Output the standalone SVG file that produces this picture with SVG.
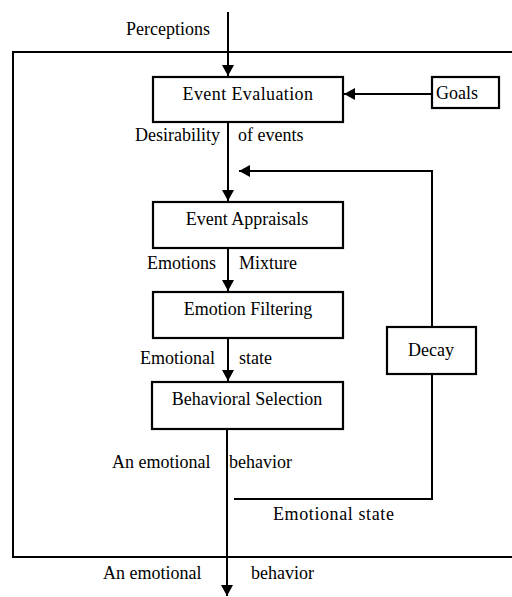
<svg xmlns="http://www.w3.org/2000/svg" width="512" height="597" viewBox="0 0 512 597">
<defs>
<marker id="ah" markerWidth="12" markerHeight="12" refX="11" refY="6" orient="auto" markerUnits="userSpaceOnUse">
<path d="M0,0 L11,6 L0,12 Z" fill="#000"/>
</marker>
<style>
.box{fill:#fff;stroke:#000;stroke-width:2.2}
.ln{fill:none;stroke:#000;stroke-width:2}
.c{text-anchor:middle}
</style>
</defs>
<rect x="0" y="0" width="512" height="597" fill="#fff"/>
<g id="frame">
<path class="ln" d="M512,52 H13 V557 H512"/>
</g>
<g id="connectors">
<path class="ln" d="M228,12 V76" marker-end="url(#ah)"/>
<path class="ln" d="M432,94 H344" marker-end="url(#ah)"/>
<path class="ln" d="M228,122 V201" marker-end="url(#ah)"/>
<path class="ln" d="M432,327 V171 H239" marker-end="url(#ah)"/>
<path class="ln" d="M228,248 V291" marker-end="url(#ah)"/>
<path class="ln" d="M228,338 V381" marker-end="url(#ah)"/>
<path class="ln" d="M432,374 V499 H234"/>
<path class="ln" d="M227,429 V596" marker-end="url(#ah)"/>
</g>
<g font-family="Liberation Serif, Times New Roman, DejaVu Serif, serif" font-size="18" fill="#000">
<g id="labels">
<text x="126" y="35">Perceptions</text>
<text x="135" y="141">Desirability</text>
<text x="238" y="141">of events</text>
<text x="147" y="269">Emotions</text>
<text x="239" y="269">Mixture</text>
<text x="140" y="364">Emotional</text>
<text x="239" y="364">state</text>
<text x="112" y="468">An emotional</text>
<text x="229" y="468">behavior</text>
<text x="273" y="520" letter-spacing="0.6">Emotional state</text>
<text x="103" y="579">An  emotional</text>
<text x="251" y="579">behavior</text>
</g>
<g id="event-evaluation">
<rect class="box" x="153" y="77" width="190" height="45"/>
<text class="c" x="248" y="100" letter-spacing="0.4">Event Evaluation</text>
</g>
<g id="goals">
<rect class="box" x="432" y="77" width="67" height="31"/>
<text x="436" y="99">Goals</text>
</g>
<g id="event-appraisals">
<rect class="box" x="153" y="202" width="190" height="46"/>
<text class="c" x="247" y="225">Event Appraisals</text>
</g>
<g id="emotion-filtering">
<rect class="box" x="153" y="292" width="190" height="46"/>
<text class="c" x="248" y="315">Emotion Filtering</text>
</g>
<g id="decay">
<rect class="box" x="387" y="327" width="89" height="47"/>
<text class="c" x="431" y="356">Decay</text>
</g>
<g id="behavioral-selection">
<rect class="box" x="152" y="382" width="191" height="47"/>
<text class="c" x="247" y="405">Behavioral Selection</text>
</g>
</g>
</svg>
